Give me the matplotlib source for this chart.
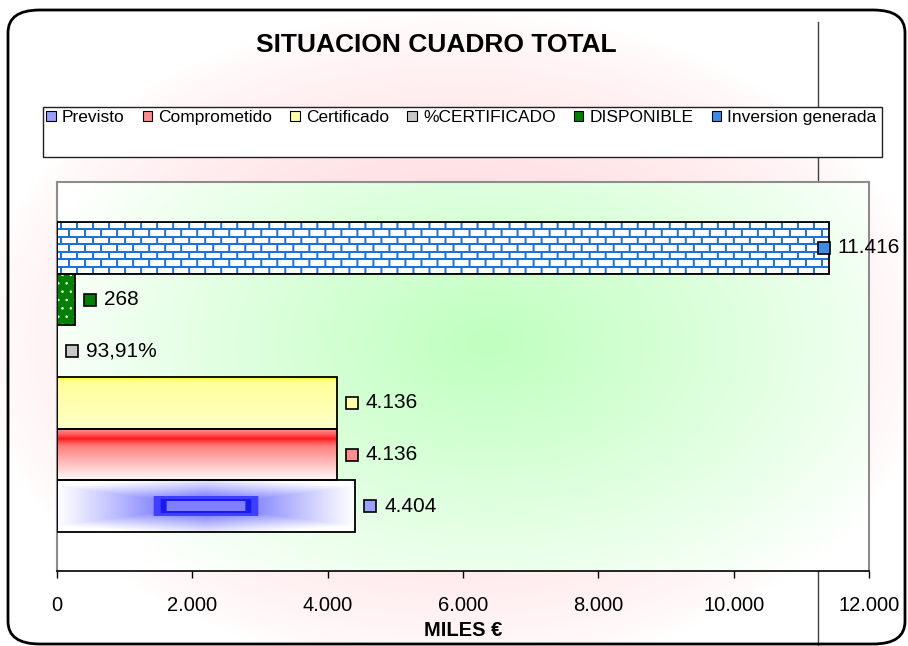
import numpy as np
import matplotlib
matplotlib.use('Agg')
from matplotlib import pyplot as plt
from matplotlib.patches import Patch, Rectangle, FancyBboxPatch
from matplotlib.ticker import FuncFormatter
from matplotlib.lines import Line2D

plt.rcParams['font.family'] = ['Liberation Sans', 'DejaVu Sans']
plt.rcParams['hatch.linewidth'] = 0.6

# data
series = ['Previsto', 'Comprometido', 'Certificado', '%CERTIFICADO', 'DISPONIBLE', 'Inversion generada']
values = [4404, 4136, 4136, 0.9391, 268, 11416]
is_pct = [False, False, False, True, False, False]
key_colors = ['#9aa0ff', '#ff8c8c', '#ffffa8', '#c8c8c8', '#008000', '#3c8ce6']
xticks = [0, 2000, 4000, 6000, 8000, 10000, 12000]

W, H = 908, 646
fig = plt.figure(figsize=(W / 100, H / 100), dpi=100)
fig.patch.set_facecolor('white')

# pink background glow
yy, xx = np.mgrid[0:H, 0:W]
d = np.sqrt(((xx - 454) / 480.0) ** 2 + ((yy - 340) / 330.0) ** 2)
t = np.clip(1 - d, 0, 1) ** 0.75
bg = np.ones((H, W, 3))
bg[..., 1] -= t * 0.19
bg[..., 2] -= t * 0.17
fig.figimage(bg, xo=0, yo=0, origin='upper', zorder=-10)

def px(x, y):
    return x / W, 1 - y / H

# rounded outer frame
x0, y0 = px(8, 644)
x1, y1 = px(905, 10)
frame = FancyBboxPatch((x0, y0), x1 - x0, y1 - y0, boxstyle='round,pad=0,rounding_size=0.035',
                       transform=fig.transFigure, facecolor='none', edgecolor='black', lw=2, zorder=1)
fig.add_artist(frame)

# stray vertical line behind everything
fig.add_artist(Line2D([818 / W, 818 / W], [0, 1 - 22 / H], transform=fig.transFigure,
                      color='#404040', lw=1, zorder=0))

fig.text(436 / W, 1 - 45 / H, 'SITUACION CUADRO TOTAL', ha='center', va='center',
         fontsize=19, fontweight='bold')

# legend box
lx0, ly0 = px(43, 157)
lx1, ly1 = px(882, 107)
fig.add_artist(Rectangle((lx0, ly0), lx1 - lx0, ly1 - ly0, transform=fig.transFigure,
                         facecolor='white', edgecolor='#202020', lw=1, zorder=2))
handles = [Patch(facecolor=c, edgecolor='black', lw=0.8) for c in key_colors]
fig.legend(handles, series, ncol=6, loc='upper left', bbox_to_anchor=(46 / W, 1 - 110 / H),
           frameon=False, fontsize=12.5, handlelength=0.55, handleheight=0.55,
           handletextpad=0.35, columnspacing=1.05, borderpad=0, borderaxespad=0)

# plot area
ax_l, ax_r, ax_t, ax_b = 57, 869, 182, 571
ax = fig.add_axes([ax_l / W, 1 - ax_b / H, (ax_r - ax_l) / W, (ax_b - ax_t) / H], zorder=3)
gh, gw = ax_b - ax_t, ax_r - ax_l
gy, gx = np.mgrid[0:gh, 0:gw]
gd = np.sqrt(((gx - 430) / 470.0) ** 2 + ((gy - 160) / 300.0) ** 2)
gt = np.clip(1 - gd, 0, 1) ** 0.9
green = np.ones((gh, gw, 3))
green[..., 0] -= gt * 0.25
green[..., 2] -= gt * 0.25
ax.imshow(green, extent=[0, 1, 0, 1], transform=ax.transAxes, aspect='auto', zorder=0,
          interpolation='bilinear')

ypos = np.arange(len(series))
ax.set_xlim(0, 12000)
ax.set_ylim(-1.254, 6.275)

bars = ax.barh(ypos, values, height=1.0, color='white', edgecolor='none', lw=0, zorder=2)

def grad_img(bar, img):
    x, y = bar.get_x(), bar.get_y()
    w, h = bar.get_width(), bar.get_height()
    im = ax.imshow(img, extent=[x, x + w, y, y + h], aspect='auto', zorder=2.5,
                   interpolation='bilinear', origin='upper')
    im.set_clip_path(bar)

# Previsto: blue box gradient
nh, nw = 52, 300
vy, vx = np.mgrid[0:nh, 0:nw]
dx = np.abs(vx - 149) / 150.0
dy = np.abs(vy - 25.5) / 26.0
tt = np.clip(1 - np.maximum(dx, dy * 0.85 + dx * 0.35), 0, 1) ** 1.1
img = np.ones((nh, nw, 3))
img[..., 0] -= tt * 0.72
img[..., 1] -= tt * 0.72
inner = (np.abs(vx - 149) < 53) & (np.abs(vy - 25.5) < 10)
img[inner] = [0.25, 0.25, 1.0]
inner2 = (np.abs(vx - 149) < 46) & (np.abs(vy - 25.5) < 7)
img[inner2] = [0.1, 0.1, 0.95]
inner3 = (np.abs(vx - 149) < 40) & (np.abs(vy - 25.5) < 5)
img[inner3] = [0.5, 0.5, 1.0]
grad_img(bars[0], img)

# Comprometido: red band fading down
p = np.interp(np.linspace(0, 1, 60), [0.0, 0.12, 0.2, 0.26, 0.35, 1.0],
              [0.6, 0.35, 0.1, 0.3, 0.5, 0.98])
img = np.ones((60, 2, 3))
img[..., 1] = p[:, None]
img[..., 2] = p[:, None]
grad_img(bars[1], img)

# Certificado: yellow
p = np.interp(np.linspace(0, 1, 60), [0, 0.05, 0.15, 1], [0.0, 0.5, 0.62, 0.78])
img = np.ones((60, 2, 3))
img[..., 2] = p[:, None]
grad_img(bars[2], img)

# DISPONIBLE: green with white dots
bars[4].set_facecolor('#008000')
bars[4].set_hatch('..')
bars[4].set_edgecolor('white')

# Inversion generada: blue bricks
fig.canvas.draw()
bb = bars[5]
(px0, py0) = ax.transData.transform((bb.get_x(), bb.get_y()))
(px1, py1) = ax.transData.transform((bb.get_x() + bb.get_width(), bb.get_y() + bb.get_height()))
bw, bh = int(round(px1 - px0)), int(round(py1 - py0))
img = np.ones((bh, bw, 3))
blue = np.array([0.1, 0.45, 0.87])
row_h = bh / 7.0
for r in range(8):
    yline = int(round(r * row_h))
    img[max(yline - 1, 0):yline + 1] = blue
    off = 3 if r % 2 == 0 else 11
    ys, ye = int(round(r * row_h)), int(round((r + 1) * row_h))
    for xc in range(off, bw, 16):
        img[ys:ye, xc:xc + 2] = blue
grad_img(bb, img)

# outlines on top of the fills
ax.barh(ypos, values, height=1.0, color='none', edgecolor='black', lw=1.3, zorder=3)

# spines & ticks
for s in ['left', 'top', 'right']:
    ax.spines[s].set_color('#8c8c8c')
    ax.spines[s].set_linewidth(1.5)
ax.spines['bottom'].set_color('black')
ax.spines['bottom'].set_linewidth(1.2)
ax.set_yticks([])
ax.set_xticks(xticks)
ax.xaxis.set_major_formatter(FuncFormatter(lambda v, _: f'{v:,.0f}'.replace(',', '.')))
ax.tick_params(axis='x', length=5, width=1, pad=13, labelsize=14.5)
ax.set_xlabel('MILES €', fontsize=14.5, fontweight='bold', labelpad=4)

# data labels with colour keys
fig.canvas.draw()
inv = fig.transFigure.inverted()
for i, (v, pc) in enumerate(zip(values, is_pct)):
    lab = f'{v * 100:.2f}%'.replace('.', ',') if pc else f'{v:,.0f}'.replace(',', '.')
    xp, yp = ax.transData.transform((v, ypos[i]))
    txt = fig.text(0, 0, lab, fontsize=15, va='center', ha='left', zorder=10)
    tw = txt.get_window_extent(fig.canvas.get_renderer()).width
    sx = xp + 9
    if sx + 20 + tw > 900:
        sx = 900 - 20 - tw
    fx, fy = inv.transform((sx + 20, yp))
    txt.set_position((fx, fy))
    r0 = inv.transform((sx, yp - 6))
    r1 = inv.transform((sx + 12, yp + 6))
    fig.add_artist(Rectangle(r0, r1[0] - r0[0], r1[1] - r0[1], transform=fig.transFigure,
                             facecolor=key_colors[i], edgecolor='black', lw=1.2, zorder=10))

fig.savefig('out.png', dpi=100)
